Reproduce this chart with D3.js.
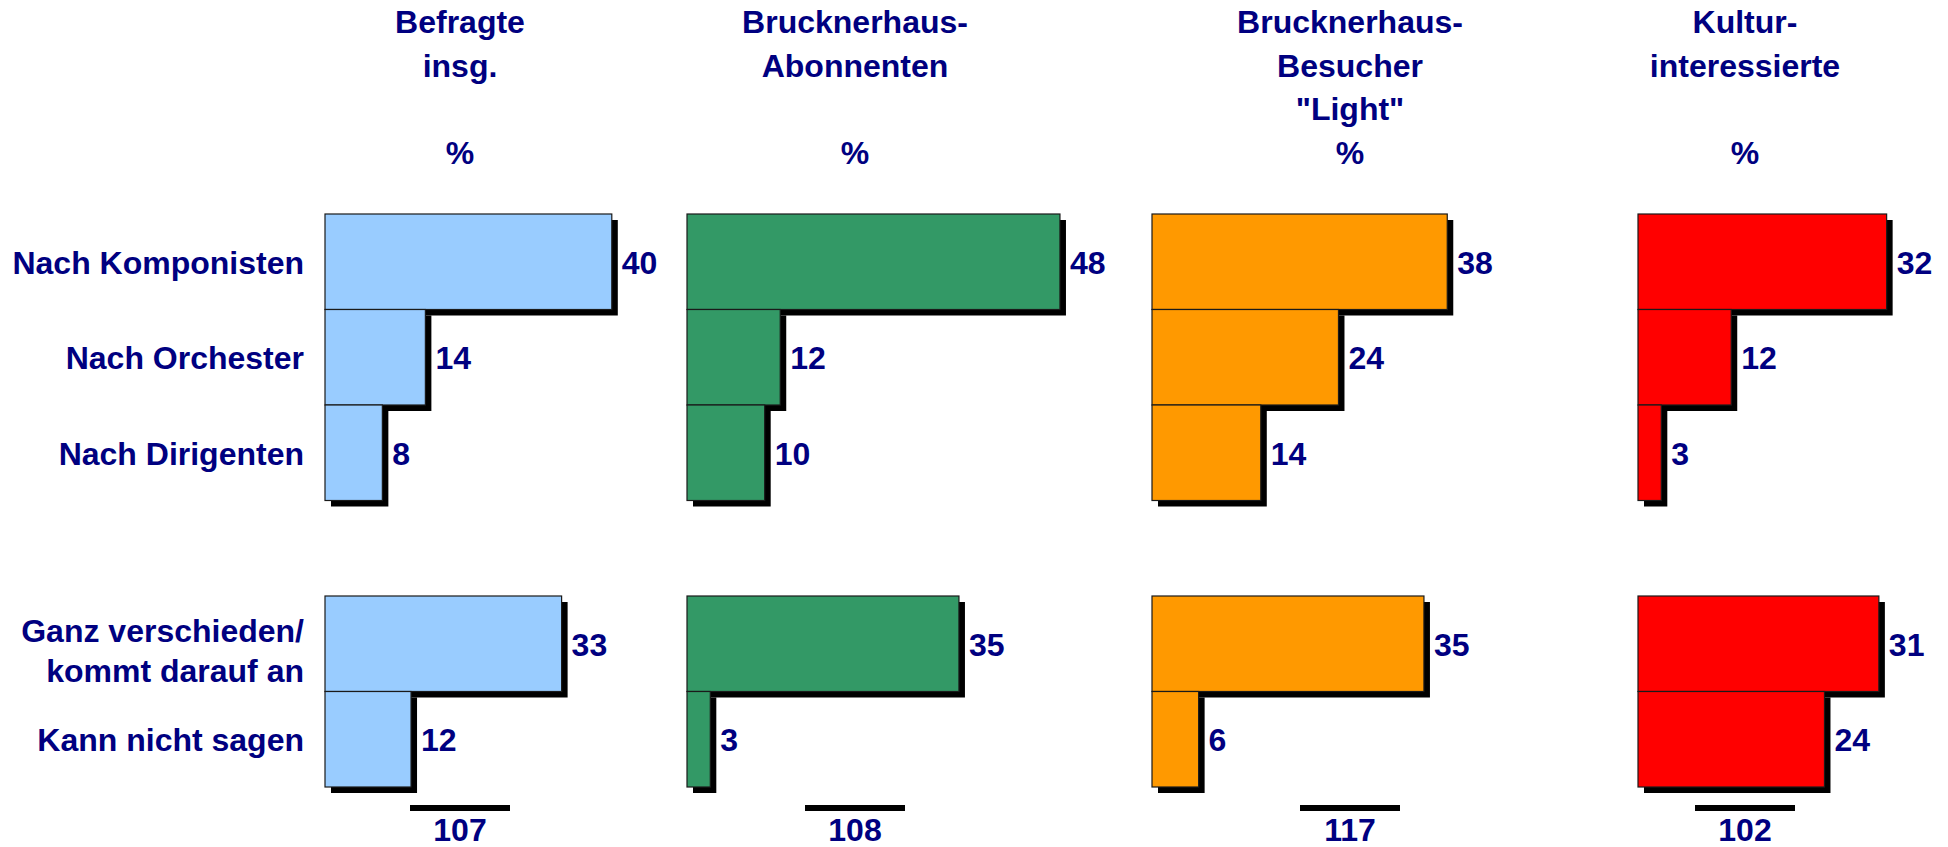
<!DOCTYPE html>
<html>
<head>
<meta charset="utf-8" />
<title>Auswahl nach Komponisten, Orchester, Dirigenten</title>
<script src="https://d3js.org/d3.v7.min.js"></script>
<style>
    body {
        margin: 0;
        background-color: white;
    }
    svg text {
        font-family: "Liberation Sans", Arial, sans-serif;
        font-weight: bold;
        font-size: 32px;
        fill: #000080;
    }
</style>
</head>
<body>
<svg id="chart" width="1948" height="847"></svg>
<script>

// data
var headers = [
    ["Befragte", "insg."],
    ["Brucknerhaus-", "Abonnenten"],
    ["Brucknerhaus-", "Besucher", "\"Light\""],
    ["Kultur-", "interessierte"]
];
var topCategories = ["Nach Komponisten", "Nach Orchester", "Nach Dirigenten"];
var bottomCategories = [["Ganz verschieden/", "kommt darauf an"], ["Kann nicht sagen"]];
var topValues = [
    [40, 14, 8],
    [48, 12, 10],
    [38, 24, 14],
    [32, 12, 3]
];
var bottomValues = [
    [33, 12],
    [35, 3],
    [35, 6],
    [31, 24]
];
var totals = [107, 108, 117, 102];

// layout (not data)
var colors = ["#99CCFF", "#339966", "#FF9900", "#FF0000"];
var panels = [
    {left: 325, center: 460, width: 358.5},
    {left: 687, center: 855, width: 388.5},
    {left: 1152, center: 1350, width: 388.5},
    {left: 1638, center: 1745, width: 388.5}
];
var shadow = 6;
var labelRight = 304;

var svg = d3.select("#chart");

var yTop = d3.scaleBand().domain(d3.range(topCategories.length)).range([214, 500.5]).padding(0);
var yBottom = d3.scaleBand().domain(d3.range(bottomCategories.length)).range([596, 787]).padding(0);

// headers
var headerY = d3.scaleLinear().domain([0, 3]).range([33, 163.5]);
panels.forEach(function(p, i) {
    var g = svg.append("g").attr("class", "header");
    g.selectAll("text.line")
        .data(headers[i])
        .enter().append("text")
        .attr("class", "line")
        .attr("x", p.center)
        .attr("y", function(d, j) { return headerY(j); })
        .attr("text-anchor", "middle")
        .text(function(d) { return d; });
    g.append("text")
        .attr("x", p.center)
        .attr("y", headerY(3))
        .attr("text-anchor", "middle")
        .text("%");
});

// category labels
svg.selectAll("text.cat-top")
    .data(topCategories)
    .enter().append("text")
    .attr("class", "cat-top")
    .attr("x", labelRight)
    .attr("y", function(d, i) { return yTop(i) + yTop.bandwidth() / 2; })
    .attr("dy", "0.37em")
    .attr("text-anchor", "end")
    .text(function(d) { return d; });

var catBottom = svg.selectAll("text.cat-bottom")
    .data(bottomCategories)
    .enter().append("text")
    .attr("class", "cat-bottom")
    .attr("text-anchor", "end")
    .attr("y", function(d, i) { return yBottom(i) + yBottom.bandwidth() / 2; });

catBottom.each(function(lines) {
    var t = d3.select(this);
    t.selectAll("tspan")
        .data(lines)
        .enter().append("tspan")
        .attr("x", labelRight)
        .attr("dy", function(d, j) {
            if (lines.length === 1) return "0.37em";
            return j === 0 ? "-0.05em" : "1.25em";
        })
        .text(function(d) { return d; });
});

// bars: shadows first, then the bars on top, then the values
function drawGroup(g, values, y, x, p, color) {
    g.selectAll("rect.shadow")
        .data(values)
        .enter().append("rect")
        .attr("class", "shadow")
        .attr("x", p.left + shadow)
        .attr("y", function(d, i) { return y(i) + shadow; })
        .attr("width", function(d) { return x(d); })
        .attr("height", y.bandwidth())
        .attr("fill", "black");

    g.selectAll("rect.bar")
        .data(values)
        .enter().append("rect")
        .attr("class", "bar")
        .attr("x", p.left)
        .attr("y", function(d, i) { return y(i); })
        .attr("width", function(d) { return x(d); })
        .attr("height", y.bandwidth())
        .attr("fill", color)
        .attr("stroke", "#1a1a1a")
        .attr("stroke-width", 1.2);

    g.selectAll("text.value")
        .data(values)
        .enter().append("text")
        .attr("class", "value")
        .attr("x", function(d) { return p.left + x(d) + 10; })
        .attr("y", function(d, i) { return y(i) + y.bandwidth() / 2; })
        .attr("dy", "0.37em")
        .text(function(d) { return d; });
}

panels.forEach(function(p, i) {
    var x = d3.scaleLinear().domain([0, 50]).range([0, p.width]);
    var g = svg.append("g").attr("class", "panel");
    drawGroup(g.append("g"), topValues[i], yTop, x, p, colors[i]);
    drawGroup(g.append("g"), bottomValues[i], yBottom, x, p, colors[i]);

    // sum line and total
    g.append("line")
        .attr("x1", p.center - 50)
        .attr("x2", p.center + 50)
        .attr("y1", 808)
        .attr("y2", 808)
        .attr("stroke", "black")
        .attr("stroke-width", 6);
    g.append("text")
        .attr("x", p.center)
        .attr("y", 841)
        .attr("text-anchor", "middle")
        .text(totals[i]);
});

</script>
</body>
</html>
